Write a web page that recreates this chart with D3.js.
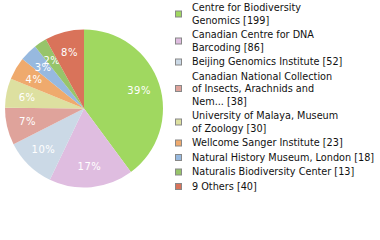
<!doctype html>
<html>
<head>
<meta charset="utf-8">
<style>
  body { margin: 0; background: #fff; }
  svg { display: block; }
</style>
<script src="https://d3js.org/d3.v7.min.js"></script>
</head>
<body>
<svg width="380" height="240" class="chart"></svg>
<script>
// institutions (line breaks as drawn in the legend, "|" = new line)
var names = [
    "Centre for Biodiversity|Genomics",
    "Canadian Centre for DNA|Barcoding",
    "Beijing Genomics Institute",
    "Canadian National Collection|of Insects, Arachnids and|Nem...",
    "University of Malaya, Museum|of Zoology",
    "Wellcome Sanger Institute",
    "Natural History Museum, London",
    "Naturalis Biodiversity Center",
    "9 Others"
];
var counts = [199, 86, 52, 38, 30, 23, 18, 13, 40];
var colors = ["#a0d860", "#dfbde0", "#cbd9e6", "#dfa39b", "#dde0a0",
              "#efaa6d", "#97b9df", "#97c46a", "#d9735a"];

var svg = d3.select(".chart"),
    cx = 84, cy = 108.5, radius = 79;

var total = d3.sum(counts);
var color = d3.scaleOrdinal().domain(d3.range(counts.length)).range(colors);

var pie = d3.pie().sort(null).value(function(d) { return d; });
var arc = d3.arc().innerRadius(0).outerRadius(radius);
var labelArc = d3.arc().innerRadius(58).outerRadius(58);

var g = svg.append("g").attr("transform", "translate(" + cx + "," + cy + ")");

var arcs = g.selectAll(".arc")
    .data(pie(counts))
    .enter().append("g")
    .attr("class", "arc");

arcs.append("path")
    .attr("fill", function(d, i) { return color(i); })
    .attr("d", arc);

arcs.append("text")
    .attr("transform", function(d) { return "translate(" + labelArc.centroid(d) + ")"; })
    .attr("text-anchor", "middle")
    .attr("dy", "0.35em")
    .attr("font-family", "DejaVu Sans")
    .attr("font-size", "10px")
    .attr("letter-spacing", "0.5px")
    .attr("fill", "#fff")
    .text(function(d) { return Math.floor(d.value / total * 100) + "%"; });

// legend
var lineH = 12.5, itemGap = 2, legendTop = 1.5;
var legend = svg.append("g").attr("transform", "translate(175,0)");
var yPos = legendTop;
names.forEach(function(name, i) {
    var lines = name.split("|");
    lines[lines.length - 1] += " [" + counts[i] + "]";
    var h = lines.length * lineH;
    var item = legend.append("g").attr("transform", "translate(0," + yPos + ")");
    item.append("rect")
        .attr("x", 0.5)
        .attr("y", Math.round(h / 2 - 3.5) + 0.5)
        .attr("width", 6)
        .attr("height", 6)
        .attr("fill", color(i))
        .attr("stroke", "#888");
    item.selectAll("text")
        .data(lines)
        .enter().append("text")
        .attr("x", 17)
        .attr("y", function(d, j) { return j * lineH + 9.5; })
        .attr("font-family", "DejaVu Sans")
        .attr("font-size", "9.7px")
        .attr("fill", "#111")
        .text(function(d) { return d; });
    yPos += h + itemGap;
});
</script>
</body>
</html>
